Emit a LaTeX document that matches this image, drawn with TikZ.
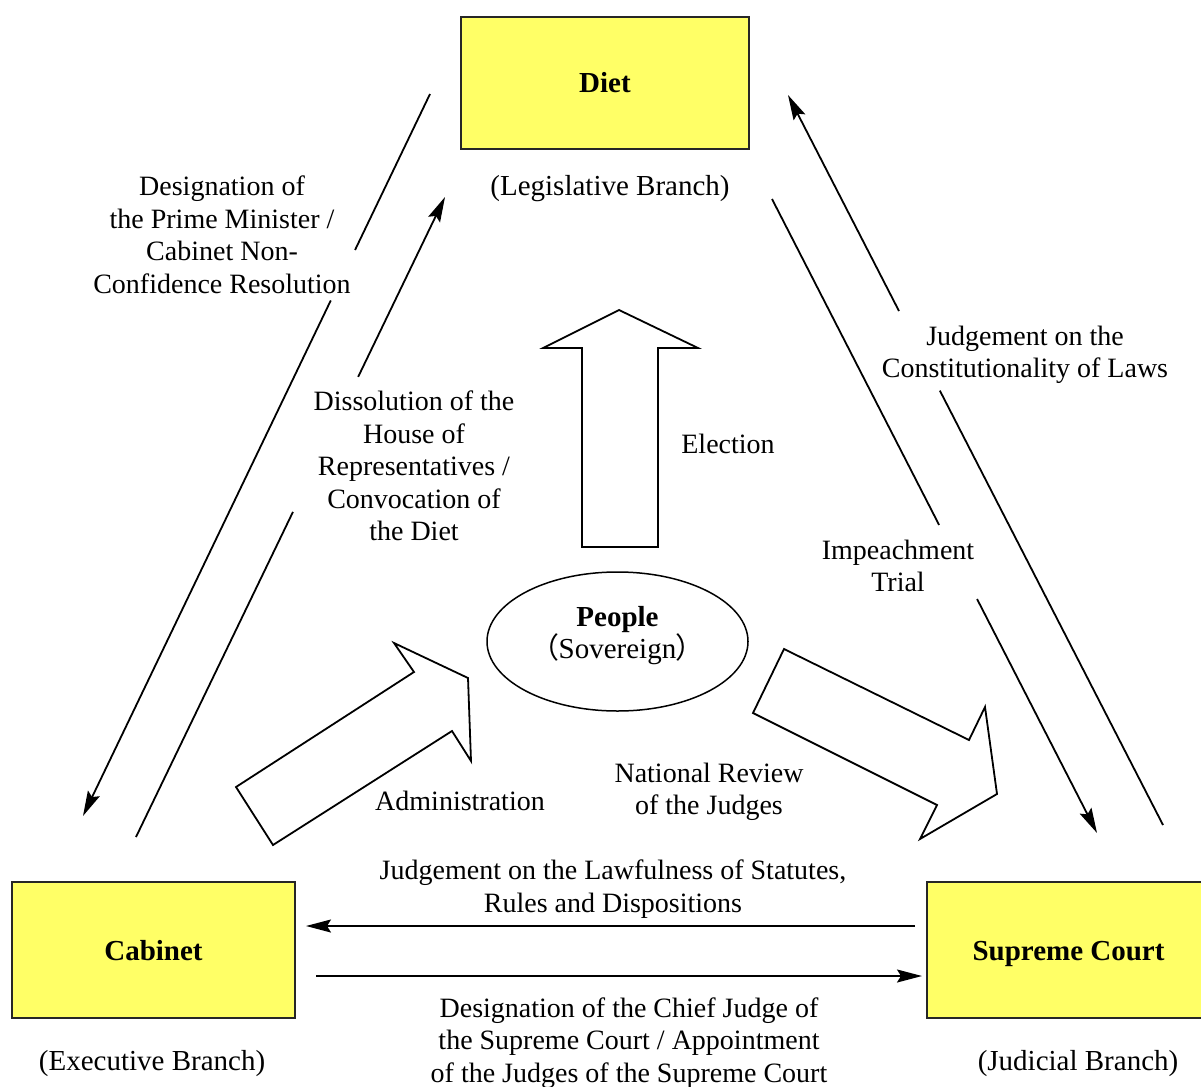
\documentclass[tikz,border=0pt]{standalone}
\usepackage{fontspec}
\setmainfont{Liberation Serif}
\newfontfamily\cjkfont[RawFeature=+palt]{Noto Sans CJK JP}
\usetikzlibrary{arrows.meta, positioning, calc, shapes.geometric}
\definecolor{boxyellow}{HTML}{FFFF66}

\begin{document}
\begin{tikzpicture}[x=1pt, y=-1pt,
  font=\fontsize{28}{32.5}\selectfont,
  branch/.style={draw=black!85, line width=1.5pt, fill=boxyellow, minimum width=283pt, minimum height=136pt, text height=26pt, text depth=6pt, font=\fontsize{29}{32.5}\selectfont\bfseries},
  lbl/.style={align=center, inner sep=0pt, yshift=-3pt},
  sub/.style={lbl, font=\fontsize{29}{32.5}\selectfont},
  link/.style={line width=1.8pt, -{Stealth[length=25pt,width=13pt,inset=4pt]}},
  fat/.style={draw, line width=1.8pt, fill=white, line join=miter}]
\useasboundingbox (0,0) rectangle (1201,1086);

% branches
\node[branch, minimum width=288pt, minimum height=132pt] (diet) at (605,83) {Diet};
\node[branch] (cabinet) at (153.5,950) {Cabinet};
\node[branch] (court) at (1068.5,950) {Supreme Court};
\node[sub] (legis) at (610,186) {(Legislative Branch)};
\node[sub] (exec) at (152,1061) {(Executive Branch)};
\node[sub] (judic) at (1078,1061) {(Judicial Branch)};

% people
\node[ellipse, draw, line width=1.5pt, minimum width=261pt, minimum height=139pt] (people) at (617.5,641.5) {};
\node[sub] (sovereign) at ([yshift=9pt]people.center) {\textbf{People}\\{\cjkfont （}Sovereign{\cjkfont ）}};

% fat arrows
\draw[fat] (582,547) -- (582,348) -- (543,348) -- (619,310) -- (698,348) -- (658,348) -- (658,547) -- cycle;
\draw[fat] (236,787) -- (414,672) -- (394,643) -- (468,678) -- (471,761) -- (452,731) -- (273,845) -- cycle;
\draw[fat] (784,649) -- (969,740) -- (985,707) -- (997,794) -- (920,839) -- (937,805) -- (753,713) -- cycle;
\node[lbl] (election) at (728,441) {Election};
\node[lbl] (admin) at (460,798) {Administration};
\node[lbl] (review) at (709,789) {National Review\\of the Judges};

% diet and cabinet
\coordinate (pmS) at (430,94);
\coordinate (pmE) at (83,816);
\draw[link] (pmS) -- ($(pmS)!0.216!(pmE)$) ($(pmS)!0.286!(pmE)$) -- (pmE);
\node[lbl] (pmlbl) at (222,232) {Designation of\\the Prime Minister /\\Cabinet Non-\\Confidence Resolution};
\coordinate (dsS) at (136,837);
\coordinate (dsE) at (445,197);
\draw[link] (dsS) -- ($(dsS)!0.508!(dsE)$) ($(dsS)!0.719!(dsE)$) -- (dsE);
\node[lbl] (dslbl) at (414,463) {Dissolution of the\\House of\\Representatives /\\Convocation of\\the Diet};

% diet and court
\coordinate (cnS) at (1163,825);
\coordinate (cnE) at (788,95);
\draw[link] (cnS) -- ($(cnS)!0.595!(cnE)$) ($(cnS)!0.704!(cnE)$) -- (cnE);
\node[lbl] (cnlbl) at (1025,352) {Judgement on the\\Constitutionality of Laws};
\coordinate (imS) at (772,199);
\coordinate (imE) at (1097,833);
\draw[link] (imS) -- ($(imS)!0.514!(imE)$) ($(imS)!0.631!(imE)$) -- (imE);
\node[lbl] (imlbl) at (898,563) {Impeachment\\Trial};

% cabinet and court
\coordinate (lwS) at (915,926);
\coordinate (lwE) at (306,926);
\draw[link] (lwS) -- (lwE);
\node[lbl] (lwlbl) at (613,886) {Judgement on the Lawfulness of Statutes,\\Rules and Dispositions};
\coordinate (cjS) at (316,976);
\coordinate (cjE) at (922,976);
\draw[link] (cjS) -- (cjE);
\node[lbl] (cjlbl) at (629,1040) {Designation of the Chief Judge of\\the Supreme Court / Appointment\\of the Judges of the Supreme Court};
\end{tikzpicture}
\end{document}
